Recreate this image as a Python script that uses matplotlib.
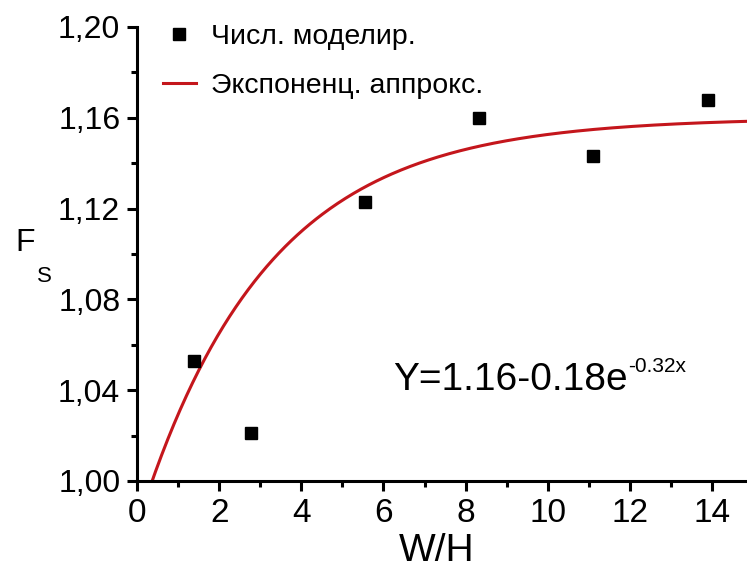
import numpy as np
import matplotlib.pyplot as plt
from matplotlib.ticker import FixedLocator, MultipleLocator

plt.rcParams['font.family'] = ['Liberation Sans', 'DejaVu Sans']

# numerical modelling results
wh = [1.39, 2.78, 5.56, 8.33, 11.11, 13.89]
fs = [1.053, 1.021, 1.123, 1.160, 1.143, 1.168]

# exponential fit  Y = a - b*exp(-c*x)
fit_a = 1.16
fit_b = 0.18
fit_c = 0.32

x_ticks = [0, 2, 4, 6, 8, 10, 12, 14]
y_ticks = [1.00, 1.04, 1.08, 1.12, 1.16, 1.20]
y_labels = ['1,00', '1,04', '1,08', '1,12', '1,16', '1,20']

red = '#c4161c'

fig = plt.figure(figsize=(7.47, 5.70), dpi=100)
ax = fig.add_axes([137 / 747, 1 - 481 / 570, 1 - 137 / 747, (481 - 27) / 570])

x_fit = np.linspace(0, 15, 400)
y_fit = fit_a - fit_b * np.exp(-fit_c * x_fit)

ax.plot(wh, fs, 's', color='black', markersize=9, label='Числ. моделир.', zorder=3)
ax.plot(x_fit, y_fit, '-', color=red, linewidth=2.2, label='Экспоненц. аппрокс.')

ax.set_xlim(0, 14.85)
ax.set_ylim(1.00, 1.20)

ax.xaxis.set_major_locator(FixedLocator(x_ticks))
ax.xaxis.set_minor_locator(MultipleLocator(1))
ax.set_yticks(y_ticks)
ax.set_yticklabels(y_labels)
ax.yaxis.set_minor_locator(MultipleLocator(0.02))

for side in ['top', 'right']:
    ax.spines[side].set_visible(False)
for side in ['left', 'bottom']:
    ax.spines[side].set_linewidth(2.2)

ax.tick_params(which='major', direction='out', length=7, width=2.2, pad=5)
ax.tick_params(which='minor', direction='out', length=4, width=2.2)
ax.tick_params(axis='x', which='major', labelsize=24)
ax.tick_params(axis='y', which='major', labelsize=23)

leg = ax.legend(loc='upper left', bbox_to_anchor=(163 / 747, 1 - 24 / 570),
                bbox_transform=fig.transFigure, frameon=False, fontsize=20.5,
                numpoints=1, handlelength=1.15, handletextpad=0.55,
                labelspacing=0.8, borderpad=0, borderaxespad=0)

# fit equation with superscript exponent
eq = ax.text(6.23, 1.040, 'Y=1.16-0.18e', fontsize=28, va='baseline', ha='left')
ax.annotate('-0.32x', xy=(1.0, 1.0478), xycoords=(eq, 'data'),
            xytext=(0.5, 0), textcoords='offset points',
            fontsize=15, va='baseline', ha='left')

# axis titles
fig.text(437 / 747, 1 - 561 / 570, 'W/H', fontsize=28, ha='center', va='baseline')
fig.text(15 / 747, 1 - 251 / 570, 'F', fontsize=23, ha='left', va='baseline')
fig.text(37 / 747, 1 - 282 / 570, 'S', fontsize=16, ha='left', va='baseline')

fig.savefig('out.png', dpi=100)
